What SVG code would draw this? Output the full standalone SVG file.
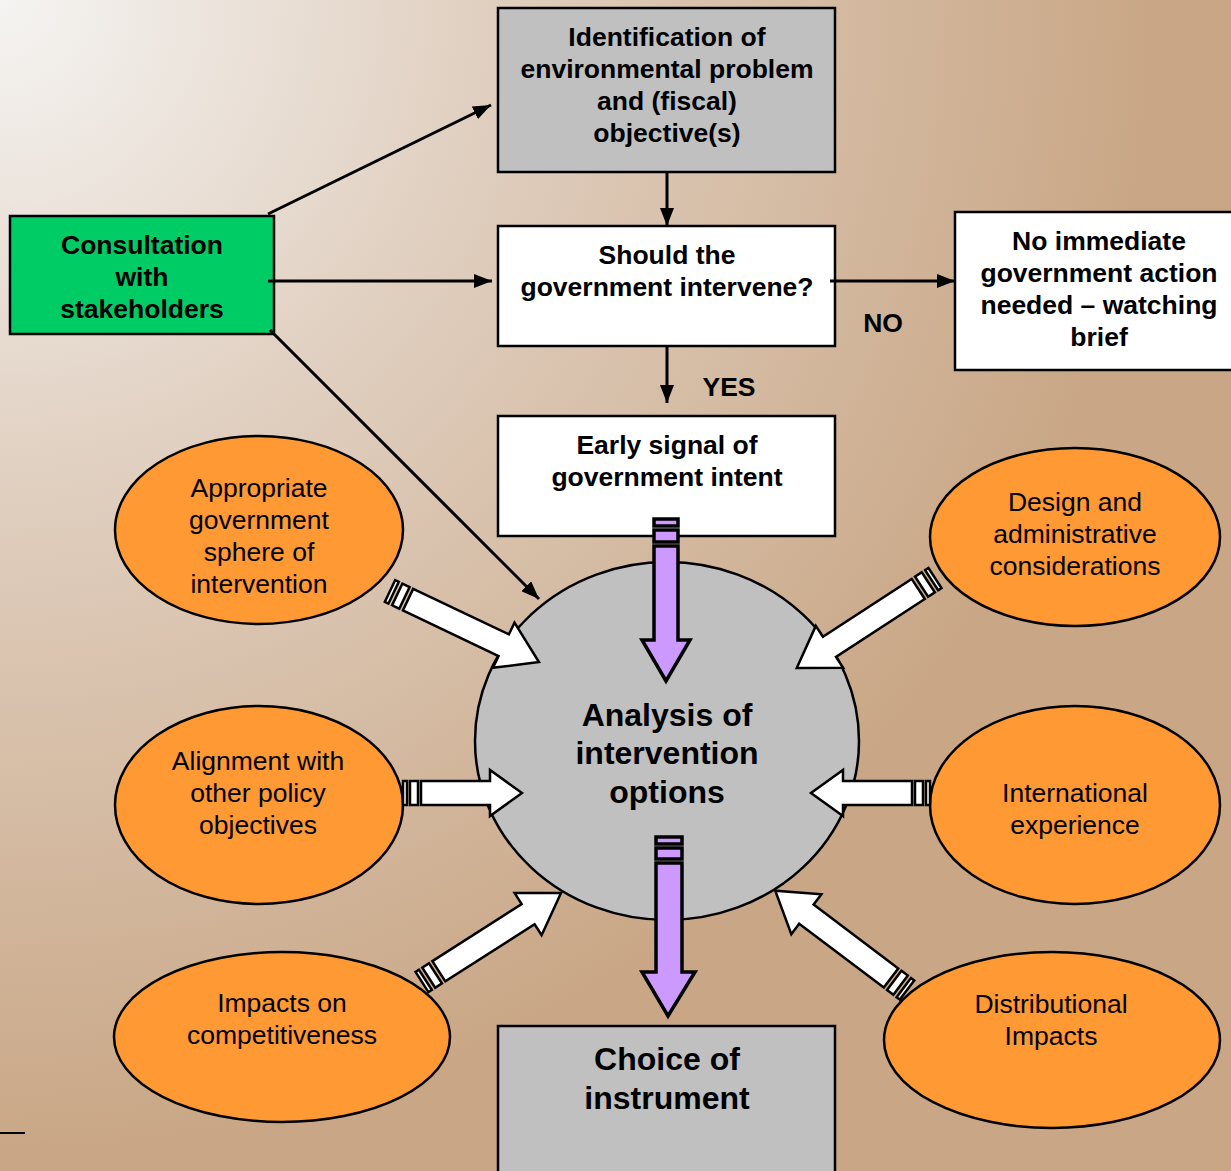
<svg xmlns="http://www.w3.org/2000/svg" width="1231" height="1171" viewBox="0 0 1231 1171">
<defs>
<radialGradient id="bg" cx="0" cy="0" r="1150" gradientUnits="userSpaceOnUse">
<stop offset="0" stop-color="#f5f4f2"/>
<stop offset="0.45" stop-color="#dfcdbd"/>
<stop offset="1" stop-color="#c9a786"/>
</radialGradient>
<marker id="ah" markerWidth="18" markerHeight="14" refX="18" refY="7" orient="auto" markerUnits="userSpaceOnUse" viewBox="0 0 18 14">
<path d="M0,0 L18,7 L0,14 Z" fill="#000"/>
</marker>
<g id="warrowL">
<rect x="0" y="-12" width="4" height="24"/>
<rect x="8" y="-12" width="8" height="24"/>
<polygon points="20,-12 126,-12 126,-25 165,0 126,25 126,12 20,12"/>
</g>
<g id="warrowS">
<rect x="0" y="-12" width="4" height="24"/>
<rect x="7" y="-12" width="8" height="24"/>
<polygon points="18,-12 87,-12 87,-23 119,0 87,23 87,12 18,12"/>
</g>
</defs>
<style>
.box{stroke:#000;stroke-width:2.5}
.ell{fill:#ff9933;stroke:#000;stroke-width:2.5}
.bt{font-family:"Liberation Sans",Arial,sans-serif;font-weight:bold;font-size:26.5px;text-anchor:middle;fill:#000}
.et{font-family:"Liberation Sans",Arial,sans-serif;font-size:26.5px;text-anchor:middle;fill:#000}
.big{font-family:"Liberation Sans",Arial,sans-serif;font-weight:bold;font-size:32px;text-anchor:middle;fill:#000}
.conn{stroke:#000;stroke-width:3;fill:none;marker-end:url(#ah)}
.warr{fill:#fff;stroke:#000;stroke-width:2.5;stroke-linejoin:miter}
.parr{fill:#cc99ff;stroke:#000;stroke-width:3.5}
</style>
<rect x="0" y="0" width="1231" height="1171" fill="url(#bg)"/>
<line x1="0" y1="1133" x2="25" y2="1133" stroke="#000" stroke-width="2"/>

<g id="analysis">
<ellipse cx="667" cy="741" rx="192" ry="179" fill="#c0c0c0" stroke="#000" stroke-width="2.5"/>
<text class="big" x="667" y="726">Analysis of</text>
<text class="big" x="667" y="764">intervention</text>
<text class="big" x="667" y="803">options</text>
</g>

<g id="identification">
<rect class="box" x="498" y="8" width="337" height="164" fill="#c0c0c0"/>
<text class="bt" x="667" y="46">Identification of</text>
<text class="bt" x="667" y="78">environmental problem</text>
<text class="bt" x="667" y="110">and (fiscal)</text>
<text class="bt" x="667" y="142">objective(s)</text>
</g>

<g id="should">
<rect class="box" x="498" y="226" width="337" height="120" fill="#fff"/>
<text class="bt" x="667" y="264">Should the</text>
<text class="bt" x="667" y="296">government intervene?</text>
</g>

<g id="noaction">
<rect class="box" x="955" y="212" width="290" height="158" fill="#fff"/>
<text class="bt" x="1099" y="250">No immediate</text>
<text class="bt" x="1099" y="282">government action</text>
<text class="bt" x="1099" y="314">needed – watching</text>
<text class="bt" x="1099" y="346">brief</text>
</g>

<g id="early">
<rect class="box" x="498" y="416" width="337" height="120" fill="#fff"/>
<text class="bt" x="667" y="454">Early signal of</text>
<text class="bt" x="667" y="486">government intent</text>
</g>

<g id="choice">
<rect class="box" x="498" y="1026" width="337" height="160" fill="#c0c0c0"/>
<text class="big" x="667" y="1070">Choice of</text>
<text class="big" x="667" y="1109">instrument</text>
</g>

<g id="consultation">
<rect class="box" x="10" y="216" width="264" height="118" fill="#00cc66"/>
<text class="bt" x="142" y="254">Consultation</text>
<text class="bt" x="142" y="286">with</text>
<text class="bt" x="142" y="318">stakeholders</text>
</g>

<g id="appropriate">
<ellipse class="ell" cx="259" cy="530" rx="144" ry="94"/>
<text class="et" x="259" y="497">Appropriate</text>
<text class="et" x="259" y="529">government</text>
<text class="et" x="259" y="561">sphere of</text>
<text class="et" x="259" y="593">intervention</text>
</g>

<g id="design">
<ellipse class="ell" cx="1075" cy="537" rx="145" ry="89"/>
<text class="et" x="1075" y="511">Design and</text>
<text class="et" x="1075" y="543">administrative</text>
<text class="et" x="1075" y="575">considerations</text>
</g>

<g id="alignment">
<ellipse class="ell" cx="259" cy="805" rx="144" ry="99"/>
<text class="et" x="258" y="770">Alignment with</text>
<text class="et" x="258" y="802">other policy</text>
<text class="et" x="258" y="834">objectives</text>
</g>

<g id="international">
<ellipse class="ell" cx="1075" cy="805" rx="145" ry="99"/>
<text class="et" x="1075" y="802">International</text>
<text class="et" x="1075" y="834">experience</text>
</g>

<g id="competitiveness">
<ellipse class="ell" cx="282" cy="1037" rx="168" ry="85"/>
<text class="et" x="282" y="1012">Impacts on</text>
<text class="et" x="282" y="1044">competitiveness</text>
</g>

<g id="distributional">
<ellipse class="ell" cx="1052" cy="1040" rx="168" ry="88"/>
<text class="et" x="1051" y="1013">Distributional</text>
<text class="et" x="1051" y="1045">Impacts</text>
</g>

<g id="connectors">
<line class="conn" x1="268" y1="214" x2="491" y2="105"/>
<line class="conn" x1="268" y1="281" x2="492" y2="281"/>
<line class="conn" x1="270" y1="330" x2="539" y2="599"/>
<line class="conn" x1="667" y1="172" x2="667" y2="226"/>
<line class="conn" x1="830" y1="281" x2="955" y2="281"/>
<line class="conn" x1="667" y1="346" x2="667" y2="403"/>
<text class="bt" x="883" y="332">NO</text>
<text class="bt" x="729" y="396">YES</text>

<use href="#warrowL" class="warr" transform="translate(390,591) rotate(25.5)"/>
<use href="#warrowL" class="warr" transform="translate(935,578) rotate(146.9)"/>
<use href="#warrowL" class="warr" transform="translate(422,982) rotate(-32.6)"/>
<use href="#warrowL" class="warr" transform="translate(907,990) rotate(-143)"/>
<use href="#warrowS" class="warr" transform="translate(403,793)"/>
<use href="#warrowS" class="warr" transform="translate(930,793) rotate(180)"/>

<g class="parr">
<rect x="654" y="519" width="24" height="7"/>
<rect x="654" y="530" width="24" height="12"/>
<polygon points="654,546 678,546 678,640 690,640 666,681 642,640 654,640"/>
<rect x="656" y="837" width="26" height="7"/>
<rect x="656" y="848" width="26" height="11"/>
<polygon points="656,863 682,863 682,972 695,972 668,1016 642,972 656,972"/>
</g>
</g>
</svg>
